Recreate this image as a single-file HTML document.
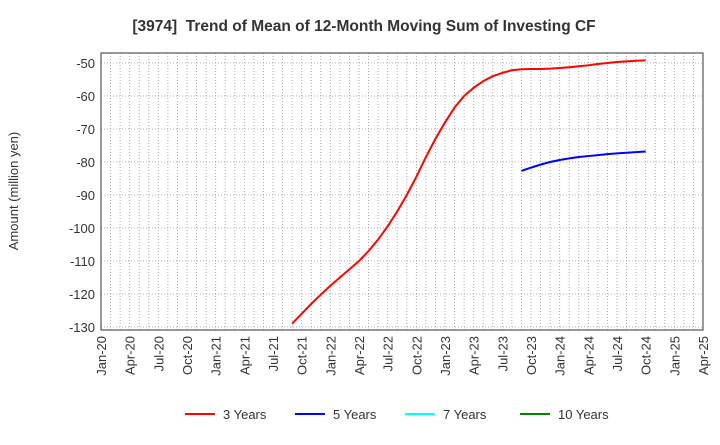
<!DOCTYPE html>
<html><head><meta charset="utf-8"><style>
body{margin:0;background:#fff;font-family:"Liberation Sans",sans-serif}
svg text{font-family:"Liberation Sans",sans-serif}
</style></head><body>
<svg width="720" height="440" xmlns="http://www.w3.org/2000/svg">
<text x="364" y="31" text-anchor="middle" font-size="15.5" font-weight="bold" fill="#333" style="white-space:pre">[3974]  Trend of Mean of 12-Month Moving Sum of Investing CF</text>
<text transform="translate(18,191) rotate(-90)" text-anchor="middle" font-size="13" fill="#333">Amount (million yen)</text>
<g id="grid"></g><g id="axes"></g><g id="series"></g>
<g id="legend"></g>
</svg>
<script>
const yTicks=[-50,-60,-70,-80,-90,-100,-110,-120,-130];
const xTickLabels=["Jan-20","Apr-20","Jul-20","Oct-20","Jan-21","Apr-21","Jul-21","Oct-21","Jan-22","Apr-22","Jul-22","Oct-22","Jan-23","Apr-23","Jul-23","Oct-23","Jan-24","Apr-24","Jul-24","Oct-24","Jan-25","Apr-25"];
const red3yStartMonth=20; // months since Jan-20 (Sep-21)
const red3y=[-129,-126,-123,-120.2,-117.5,-115,-112.5,-110,-107,-103.5,-99.5,-95,-90,-84.5,-78.5,-73,-68,-63.5,-60,-57.5,-55.5,-54,-53,-52.2,-51.9,-51.8,-51.8,-51.7,-51.5,-51.3,-51,-50.7,-50.3,-50,-49.7,-49.5,-49.3,-49.2];
const blue5yStartMonth=44; // Sep-23
const blue5y=[-82.7,-81.7,-80.8,-80,-79.4,-78.9,-78.5,-78.2,-77.9,-77.6,-77.4,-77.2,-77,-76.8];
const legendLabels=["3 Years","5 Years","7 Years","10 Years"];
const legendColors=["#ff0000","#0000ff","#00ffff","#008000"];
const L=101,R=703,T=53,B=330;
const X=m=>L+m*(R-L)/63;
const Y=v=>63+(-50-v)*3.3;
const NS="http://www.w3.org/2000/svg";
function mk(p,tag,at){const e=document.createElementNS(NS,tag);for(const k in at)e.setAttribute(k,at[k]);p.appendChild(e);return e;}
const grid=document.getElementById('grid'),axes=document.getElementById('axes'),ser=document.getElementById('series'),leg=document.getElementById('legend');
for(let m=1;m<63;m++){const l=mk(grid,'line',{x1:X(m),x2:X(m),y1:T,y2:B,stroke:'#999','stroke-dasharray':'1,2','stroke-width':0.8});

}
yTicks.forEach(v=>{const l=mk(grid,'line',{x1:L,x2:R,y1:Y(v),y2:Y(v),stroke:'#999','stroke-dasharray':'1,2','stroke-width':0.8});


const t=mk(axes,'text',{x:L-6,y:Y(v)+5,'text-anchor':'end','font-size':13,fill:'#333'});t.textContent=v;

});
xTickLabels.forEach((s,i)=>{const x=X(i*3);const t=mk(axes,'text',{transform:`translate(${x+5},${B+6}) rotate(-90)`,'text-anchor':'end','font-size':13,fill:'#333'});t.textContent=s;

});
const fr=mk(axes,'rect',{x:L,y:T,width:R-L,height:B-T,fill:'none',stroke:'#333','stroke-width':1});


function line(arr,start,col,name){const p=mk(ser,'polyline',{points:arr.map((v,i)=>X(start+i)+','+Y(v)).join(' '),fill:'none',stroke:col,'stroke-width':2,'stroke-linejoin':'round'});

}
line(red3y,red3yStartMonth,'#ff0000','series-3-years');
line(blue5y,blue5yStartMonth,'#0000ff','series-5-years');
const lx=[185,295,405,520];
legendLabels.forEach((s,i)=>{const g=mk(leg,'g',{});


mk(g,'line',{x1:lx[i],x2:lx[i]+30,y1:414,y2:414,stroke:legendColors[i],'stroke-width':2});
const t=mk(g,'text',{x:lx[i]+38,y:419,'font-size':13,fill:'#333'});t.textContent=s;});
</script>
</body></html>
